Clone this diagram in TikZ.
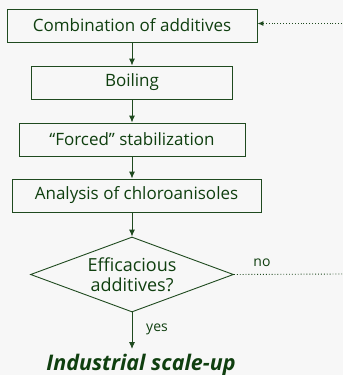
\documentclass[tikz,border=0pt]{standalone}
\usepackage{fontspec}
\setmainfont{Open Sans}
\usetikzlibrary{arrows.meta,shapes.geometric}
\definecolor{dgreen}{HTML}{1F4A1F}
\definecolor{tgreen}{HTML}{0F3F0F}
\definecolor{bg}{HTML}{F7F7F7}
\tikzset{
  stepbox/.style={draw=dgreen,line width=0.9pt,fill=bg,minimum height=33pt,inner sep=0pt,text=tgreen,font=\fontsize{17}{20}\selectfont},
  flow/.style={draw=dgreen,line width=0.9pt,-{Latex[length=7pt,width=6pt]}},
  loop/.style={draw=dgreen,line width=0.9pt,dotted},
  lbl/.style={text=tgreen,font=\fontsize{14}{16}\selectfont,inner sep=0pt}
}
\begin{document}
\begin{tikzpicture}[x=1pt,y=-1pt]
\fill[bg] (0,0) rectangle (343,375);
\useasboundingbox (0,0) rectangle (343,375);
\node[stepbox,minimum width=250pt] (b1) at (132,25.5) {Combination of additives};
\node[stepbox,minimum width=201pt] (b2) at (132,82.5) {Boiling};
\node[stepbox,minimum width=226pt] (b3) at (132,139.5) {“Forced” stabilization};
\node[stepbox,minimum width=249pt] (b4) at (136.5,195.5) {Analysis of chloroanisoles};
\node[diamond,draw=dgreen,line width=0.9pt,minimum width=203pt,minimum height=75pt,inner sep=0pt,aspect=2.7,text=tgreen,align=center,font=\fontsize{18}{20}\selectfont] (d) at (132,274.5) {Efficacious\\additives?};
\node[text=tgreen,font=\fontsize{21.5}{24}\selectfont\bfseries\itshape,inner sep=0pt] (out) at (141,365) {Industrial scale-up};
\coordinate (e1) at (342,274);
\coordinate (e2) at (342,23.5);
\draw[flow] (b1.south -| 132,0) -- (b2.north -| 132,0);
\draw[flow] (b2) -- (b3);
\draw[flow] (b3.south -| 132,0) -- (b4.north -| 132,0);
\draw[flow] (b4.south -| 132,0) -- (d.north);
\draw[flow] (d.south) -- (132,349) coordinate (yesend);
\node[lbl] (yes) at (157,329) {yes};
\node[lbl] (no) at (262,263) {no};
\draw[loop] (d.east) -- (e1);
\draw[loop,-{Latex[length=6pt,width=5pt]}] (e2) -- (b1.east |- e2);
\end{tikzpicture}
\end{document}
